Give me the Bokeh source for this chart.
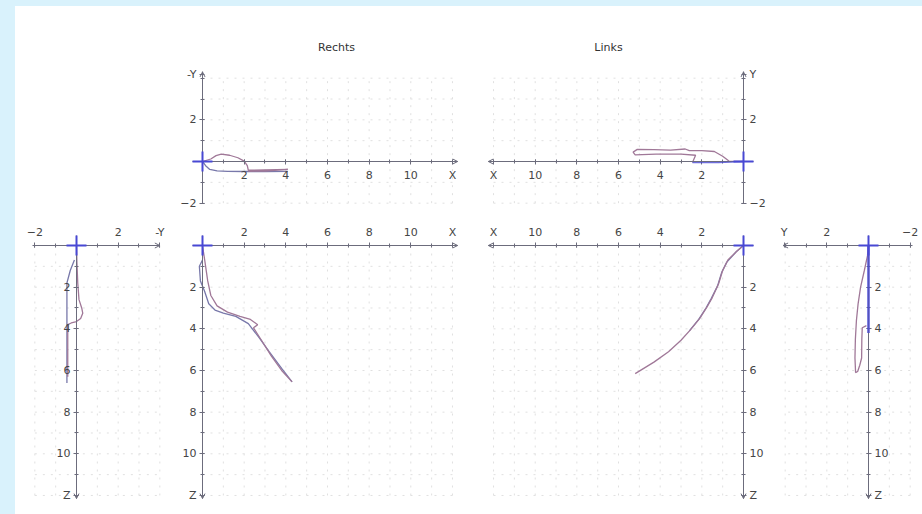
import math
from bokeh.plotting import figure
from bokeh.layouts import row, column
from bokeh.models import Range1d, FixedTicker, Label, Arrow, OpenHead, Spacer
from bokeh.embed import file_html
from bokeh.resources import INLINE

# ---------------- data ----------------
titles = ["Rechts", "Links"]

# Rechts, top view (X, -Y)
r_top_a_x = [0.0, 0.4, 0.65, 0.9, 1.3, 1.7, 2.0, 2.15, 2.2, 3.0, 4.1, 3.0, 2.2]
r_top_a_y = [0.0, 0.12, 0.28, 0.35, 0.3, 0.18, 0.02, -0.2, -0.42, -0.4, -0.38, -0.46, -0.47]
r_top_b_x = [0.0, 0.15, 0.35, 0.7, 1.2, 2.0, 3.0, 4.1]
r_top_b_y = [0.0, -0.2, -0.38, -0.45, -0.47, -0.48, -0.48, -0.47]

# Rechts, front view (X, Z)
r_front_a_x = [0.0, 0.12, 0.25, 0.4, 0.7, 1.2, 1.8, 2.3, 2.65, 2.45, 2.8, 3.3, 3.8, 4.3]
r_front_a_z = [0.0, 0.8, 1.7, 2.4, 2.9, 3.2, 3.4, 3.55, 3.8, 3.95, 4.5, 5.3, 6.0, 6.55]
r_front_b_x = [0.0, -0.15, -0.1, 0.1, 0.3, 0.6, 1.0, 1.6, 2.2, 2.7, 3.2, 3.8, 4.3]
r_front_b_z = [0.7, 1.0, 1.7, 2.2, 2.8, 3.1, 3.25, 3.4, 3.75, 4.4, 5.1, 5.9, 6.55]

# Rechts, side view (-Y, Z)
r_side_a_y = [0.0, 0.02, 0.06, 0.12, 0.25, 0.3, 0.2, 0.0, -0.25, -0.42, -0.42, -0.42]
r_side_a_z = [0.0, 0.8, 1.8, 2.6, 3.0, 3.25, 3.5, 3.65, 3.72, 3.8, 5.0, 6.3]
r_side_b_y = [-0.1, -0.3, -0.46, -0.46, -0.46, -0.46]
r_side_b_z = [0.7, 1.2, 1.8, 3.5, 5.0, 6.6]

# Links, top view (X, Y)
l_top_a_x = [0.0, 0.7, 1.0, 1.4, 2.0, 2.6, 2.8, 3.5, 4.3, 5.1, 5.3, 5.2, 4.2, 3.0, 2.3, 2.45]
l_top_a_y = [0.0, 0.02, 0.25, 0.48, 0.52, 0.52, 0.6, 0.55, 0.57, 0.58, 0.45, 0.32, 0.35, 0.35, 0.3, -0.05]
l_top_b_x = [0.0, 0.6, 1.2, 1.8, 2.45]
l_top_b_y = [0.0, -0.03, -0.05, -0.05, -0.05]

# Links, front view (X, Z)
l_front_a_x = [0.0, 0.3, 0.75, 1.0, 1.2, 1.5, 1.75, 2.1, 2.55, 3.0, 3.6, 4.3, 5.2]
l_front_a_z = [0.0, 0.25, 0.7, 1.2, 1.85, 2.5, 2.95, 3.5, 4.05, 4.55, 5.1, 5.6, 6.15]
l_front_b_x = [0.0, 0.35, 0.8, 1.05, 1.25, 1.55, 1.8, 2.15, 2.6]
l_front_b_z = [0.0, 0.3, 0.8, 1.3, 1.95, 2.55, 3.0, 3.55, 4.1]

# Links, side view (Y, Z)
l_side_a_y = [0.0, 0.05, 0.2, 0.38, 0.5, 0.58, 0.63, 0.65, 0.62, 0.52, 0.42, 0.33, 0.32, 0.3, 0.1]
l_side_a_z = [0.0, 0.5, 1.2, 2.0, 2.8, 3.6, 4.5, 5.4, 6.1, 6.05, 5.75, 5.4, 4.5, 3.95, 3.85]
l_side_b_y = [0.0, 0.0, 0.0]
l_side_b_z = [0.0, 2.0, 4.2]

# tick values and labels
x_ticks = [2, 4, 6, 8, 10, 12]
x_labels = {12: "X"}
z_ticks = [2, 4, 6, 8, 10, 12]
z_labels = {12: "Z"}
top_y_ticks = [-2, 2, 4.2]
top_y_labels_r = {4.2: "-Y"}
top_y_labels_l = {4.2: "Y"}
side_y_ticks_r = [-2, 2, 4.0]
side_y_labels_r = {4.0: "-Y"}
side_y_ticks_l = [-2, 2, 4.05]
side_y_labels_l = {4.05: "Y"}

# grid extents (integer units)
grid_x = (0, 12)
grid_top_y = (-2, 4)
grid_side_y = (-2, 4)
grid_z = (0, 12)

# ---------------- styling ----------------
S = 20.83           # px per unit
AX = "#6c6c7c"
COL_A = "#a07898"
COL_B = "#7878aa"
BLUE = "#4848d4"
GRID = "#e0e0e0"
FONT = "DejaVu Sans"
BG = "#d9f2fc"


def make_fig(box, origin, xdir, ydir, x_loc, y_loc):
    bx0, by0, bx1, by1 = box
    ox, oy = origin
    xr = Range1d((bx0 - ox) / S * xdir, (bx1 - ox) / S * xdir)
    yr = Range1d((oy - by1) / S * ydir, (oy - by0) / S * ydir)
    p = figure(width=bx1 - bx0, height=by1 - by0, x_range=xr, y_range=yr,
               x_axis_location=x_loc, y_axis_location=y_loc,
               min_border=0, toolbar_location=None, output_backend="svg")
    p.outline_line_color = None
    p.background_fill_color = "white"
    p.border_fill_color = "white"
    p.xgrid.visible = False
    p.ygrid.visible = False
    return p


def grid(p, gx, gy):
    xs, ys = [], []
    for v in range(gx[0], gx[1] + 1):
        xs.append([v, v])
        ys.append([gy[0], gy[1]])
    for v in range(gy[0], gy[1] + 1):
        xs.append([gx[0], gx[1]])
        ys.append([v, v])
    p.multi_line(xs, ys, line_color=GRID, line_width=1, line_dash="2 6")


def style_axis(ax, ticks, labels, bounds, standoff):
    lo, hi = bounds
    ax.fixed_location = 0
    ax.ticker = FixedTicker(ticks=ticks,
                            minor_ticks=list(range(math.ceil(lo), math.floor(hi) + 1)))
    ax.major_label_overrides = labels
    ax.bounds = bounds
    ax.axis_line_color = AX
    ax.major_tick_line_color = AX
    ax.minor_tick_line_color = AX
    ax.major_tick_in = 2
    ax.major_tick_out = 3
    ax.minor_tick_in = 2
    ax.minor_tick_out = 2
    ax.major_label_text_font = FONT
    ax.major_label_text_font_size = "11px"
    ax.major_label_text_color = "#454545"
    ax.major_label_standoff = standoff


def arrow(p, x0, y0, x1, y1):
    p.add_layout(Arrow(end=OpenHead(size=5, line_color=AX, line_width=1),
                       x_start=x0, y_start=y0, x_end=x1, y_end=y1,
                       line_color=AX, line_width=1))


def curves(p, ax, ay, bx, by, b_color=COL_B, b_width=1.3, b_alpha=1.0, b_level="glyph"):
    p.line(bx, by, line_color=b_color, line_width=b_width, line_alpha=b_alpha, level=b_level)
    p.line(ax, ay, line_color=COL_A, line_width=1.3)
    p.scatter([0], [0], marker="cross", size=20, line_color=BLUE, line_width=2,
              level="overlay")


def title(p, x, y, text):
    p.add_layout(Label(x=x, y=y, text=text, text_align="center", text_baseline="middle",
                       text_font=FONT, text_font_size="11px", text_color="#333333"))


# ---------- top row ----------
f1 = make_fig((15, 6, 472, 218), (202, 161), 1, 1, "below", "left")
grid(f1, grid_x, grid_top_y)
style_axis(f1.xaxis[0], x_ticks, x_labels, (-0.5, 12.25), 4)
style_axis(f1.yaxis[0], top_y_ticks, top_y_labels_r, (-2, 4.3), 3)
arrow(f1, 11.9, 0, 12.25, 0)
arrow(f1, 0, 4.0, 0, 4.3)
curves(f1, r_top_a_x, r_top_a_y, r_top_b_x, r_top_b_y)
title(f1, (336 - 202) / S, (161 - 47) / S, titles[0])

f2 = make_fig((472, 6, 922, 218), (743, 161), -1, 1, "below", "right")
grid(f2, grid_x, grid_top_y)
style_axis(f2.xaxis[0], x_ticks, x_labels, (-0.5, 12.25), 4)
style_axis(f2.yaxis[0], top_y_ticks, top_y_labels_l, (-2, 4.3), 3)
arrow(f2, 11.9, 0, 12.25, 0)
arrow(f2, 0, 4.0, 0, 4.3)
curves(f2, l_top_a_x, l_top_a_y, l_top_b_x, l_top_b_y, b_color=BLUE, b_alpha=0.8,
       b_level="overlay")
title(f2, (743 - 608) / S, (161 - 47) / S, titles[1])

# ---------- bottom row ----------
f3 = make_fig((15, 218, 170, 514), (76, 245), 1, -1, "above", "left")
grid(f3, grid_side_y, grid_z)
style_axis(f3.xaxis[0], side_y_ticks_r, side_y_labels_r, (-2.1, 4.0), 4)
style_axis(f3.yaxis[0], z_ticks, z_labels, (-0.5, 12.15), 3)
arrow(f3, 3.7, 0, 4.0, 0)
arrow(f3, 0, 11.85, 0, 12.15)
curves(f3, r_side_a_y, r_side_a_z, r_side_b_y, r_side_b_z)

f4 = make_fig((170, 218, 472, 514), (202, 245), 1, -1, "above", "left")
grid(f4, grid_x, grid_z)
style_axis(f4.xaxis[0], x_ticks, x_labels, (-0.5, 12.25), 4)
style_axis(f4.yaxis[0], z_ticks, z_labels, (-0.5, 12.15), 3)
arrow(f4, 11.9, 0, 12.25, 0)
arrow(f4, 0, 11.85, 0, 12.15)
curves(f4, r_front_a_x, r_front_a_z, r_front_b_x, r_front_b_z)

f5 = make_fig((472, 218, 772, 514), (743, 245), -1, -1, "above", "right")
grid(f5, grid_x, grid_z)
style_axis(f5.xaxis[0], x_ticks, x_labels, (-0.5, 12.25), 4)
style_axis(f5.yaxis[0], z_ticks, z_labels, (-0.5, 12.15), 3)
arrow(f5, 11.9, 0, 12.25, 0)
arrow(f5, 0, 11.85, 0, 12.15)
curves(f5, l_front_a_x, l_front_a_z, l_front_b_x, l_front_b_z)

f6 = make_fig((772, 218, 922, 514), (868, 245), -1, -1, "above", "right")
grid(f6, grid_side_y, grid_z)
style_axis(f6.xaxis[0], side_y_ticks_l, side_y_labels_l, (-2.1, 4.1), 4)
style_axis(f6.yaxis[0], z_ticks, z_labels, (-0.5, 12.15), 3)
arrow(f6, 3.8, 0, 4.1, 0)
arrow(f6, 0, 11.85, 0, 12.15)
curves(f6, l_side_a_y, l_side_a_z, l_side_b_y, l_side_b_z,
       b_color=BLUE, b_width=3, b_alpha=0.7, b_level="overlay")

strip_left = Spacer(width=15, height=514, styles={"background-color": BG})
strip_top = Spacer(width=907, height=6, styles={"background-color": BG})
p = row(strip_left, column(strip_top, row(f1, f2), row(f3, f4, f5, f6)))

open("out.html", "w").write(file_html(p, INLINE))
